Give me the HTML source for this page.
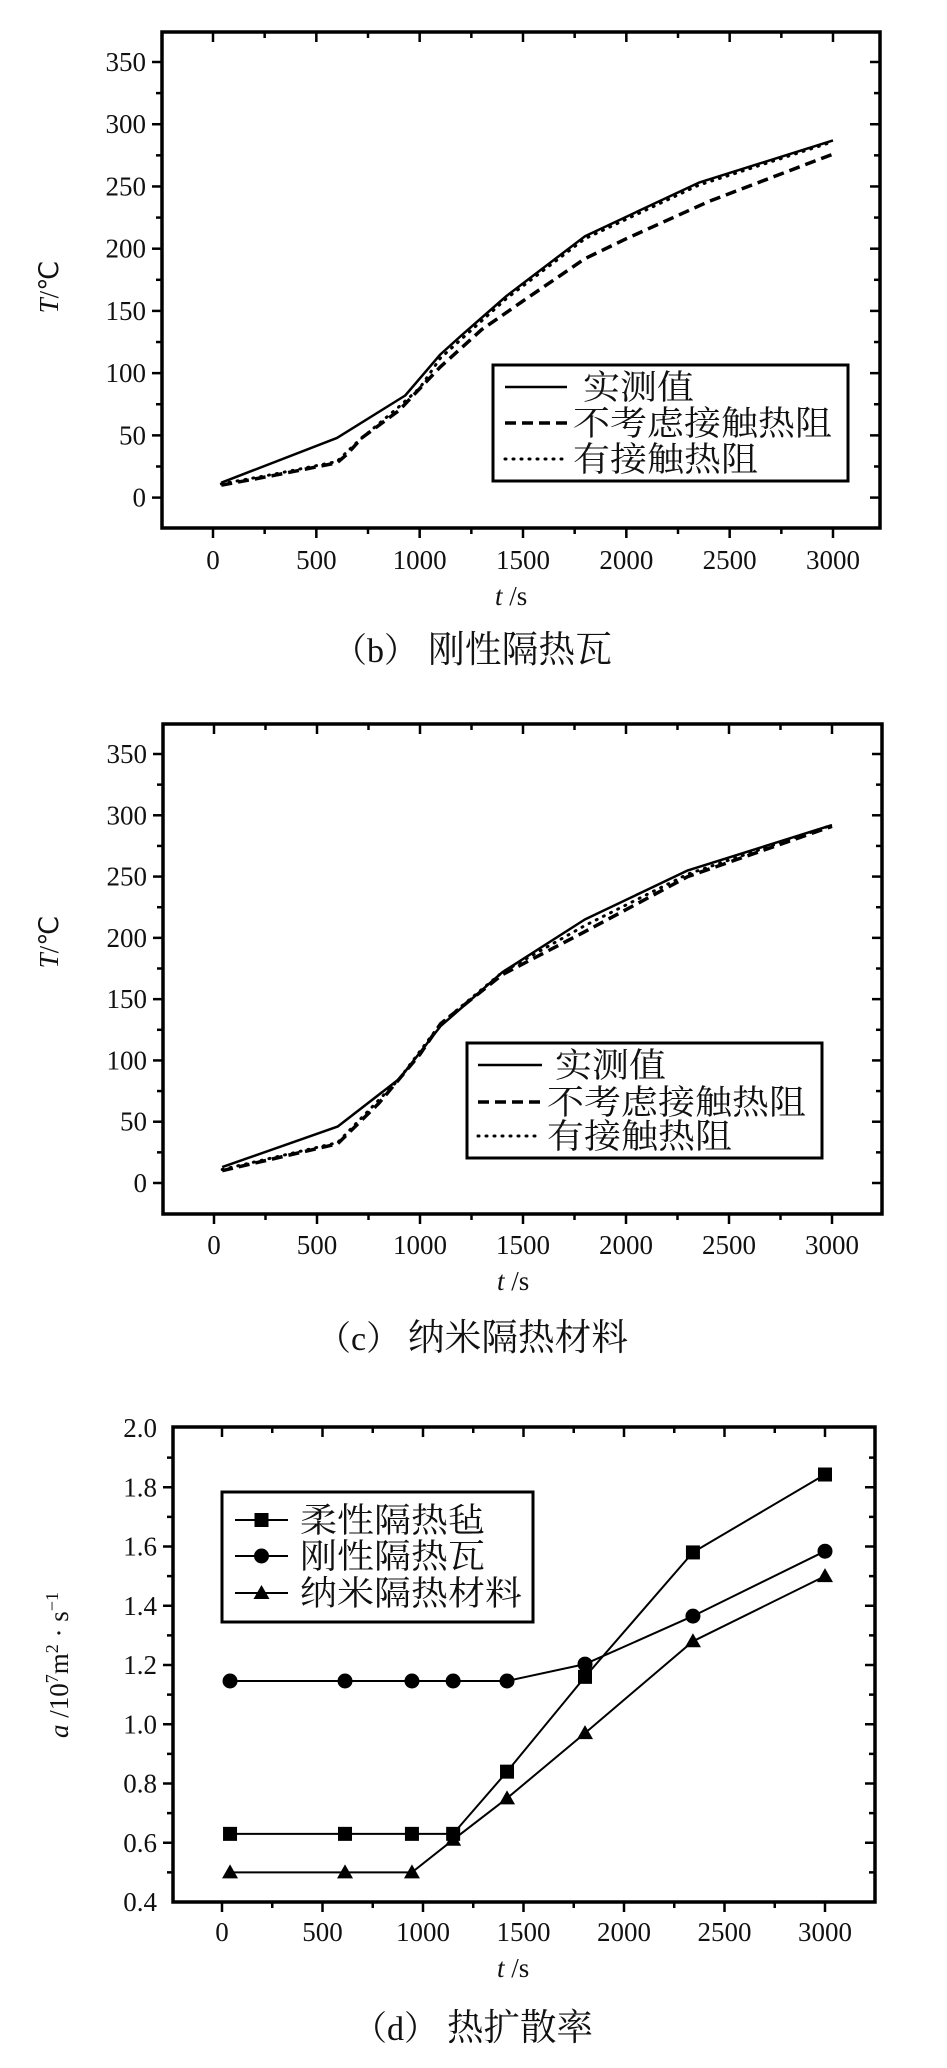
<!DOCTYPE html>
<html><head><meta charset="utf-8"><style>
html,body{margin:0;padding:0;background:#fff;}
svg{display:block;}
text{fill:#111;}
.tk{font-family:"Liberation Serif",serif;font-size:27px;}
.cj{font-family:"Liberation Serif","Noto Serif CJK SC",serif;}
</style></head><body>
<svg id="root" xmlns="http://www.w3.org/2000/svg" width="947" height="2068" viewBox="0 0 947 2068"></svg>
<script>
// ---- chart (b) data ----
const bMeasT=[40,600,930,1100,1200,1420,1800,2350,3000];
const bMeasV=[12,48,82,115,130,162,210,253,287];
const bNoResT=[40,300,600,650,720,900,1100,1300,1500,1800,2000,2400,3000];
const bNoResV=[10,18,28,35,48,70,105,135,158,192,208,238,276];
const bResT=[40,300,600,700,900,1000,1100,1420,1800,2350,3000];
const bResV=[11,19,29,45,73,88,112,160,208,251,286];
// ---- chart (c) data ----
const cMeasT=[40,600,900,1100,1400,1800,2300,3000];
const cMeasV=[13,46,85,128,172,215,255,292];
const cNoResT=[40,600,800,1000,1100,1400,1800,2300,3000];
const cNoResV=[10,32,65,105,130,170,205,250,291];
const cResT=[40,600,900,1100,1400,1800,2300,3000];
const cResV=[11,33,85,130,172,210,252,292];
// ---- chart (d) data ----
const dT=[40,612,945,1150,1418,1806,2343,3000];
const dFelt=[0.63,0.63,0.63,0.63,0.84,1.16,1.58,1.843];
const dTile=[1.146,1.146,1.146,1.146,1.146,1.203,1.365,1.584];
const dNano=[0.5,0.5,0.5,0.61,0.75,0.97,1.28,1.50];
const tempTicks=[0,50,100,150,200,250,300,350];
const aTicks=[0.4,0.6,0.8,1.0,1.2,1.4,1.6,1.8,2.0];
const timeTicks=[0,500,1000,1500,2000,2500,3000];
const legendBC=["实测值","不考虑接触热阻","有接触热阻"];
const legendD=["柔性隔热毡","刚性隔热瓦","纳米隔热材料"];

const NS="http://www.w3.org/2000/svg";
const root=document.getElementById('root');
function mk(tag,attrs,parent){const e=document.createElementNS(NS,tag);for(const k in attrs)e.setAttribute(k,attrs[k]);(parent||root).appendChild(e);return e;}

function chart(cfg){
  const g=mk('g',{});
  
  
  const X=v=>cfg.x0+(v-0)*(cfg.x3000-cfg.x0)/3000;
  const Y=v=>cfg.yb0+(v-cfg.ymin0)*(cfg.ytop1-cfg.yb0)/(cfg.ymax1-cfg.ymin0);
  const L=cfg.L,R=cfg.R,T=cfg.T,B=cfg.B;
  // ticks
  const tg=mk('g',{stroke:'#000','stroke-width':2.5},g);
  
  
  const xmaj=timeTicks, ymaj=cfg.yticks;
  const ystep=ymaj[1]-ymaj[0];
  for(let v=-500;v<=3500;v+=250){const x=X(v);if(x<=L+1||x>=R-1)continue;const maj=(v%500===0&&v>=0);
    const len=maj?10:6;
    mk('line',{x1:x,y1:B,x2:x,y2:B+len},tg);
    mk('line',{x1:x,y1:T,x2:x,y2:T+len},tg);}
  for(let i=-2;i<ymaj.length*2+2;i++){const v=ymaj[0]+i*ystep/2;const y=Y(v);if(y<=T+1||y>=B-1)continue;const maj=(i%2===0&&i>=0);
    const len=maj?10:6;
    mk('line',{x1:L,y1:y,x2:L-len,y2:y},tg);
    mk('line',{x1:R,y1:y,x2:R-len,y2:y},tg);}
  const frame=mk('rect',{x:L,y:T,width:R-L,height:B-T,fill:'none',stroke:'#000','stroke-width':3.5},g);
  
  
  xmaj.forEach(v=>{const t=mk('text',{x:X(v),y:cfg.xlabY,'text-anchor':'middle',class:'tk'},g);t.textContent=v;
    
    });
  ymaj.forEach(v=>{const t=mk('text',{x:L-16,y:Y(v)+9,'text-anchor':'end',class:'tk'},g);t.textContent=cfg.yfmt(v);
    
    });
  // x title
  const xt=mk('text',{x:cfg.xTitleX,y:cfg.xTitleY,class:'tk','font-size':30},g);
  xt.innerHTML='<tspan font-style="italic">t</tspan> /s';
  
  
  const yt=mk('text',{transform:`translate(${cfg.yTitleX},${cfg.yTitleY}) rotate(-90)`,'text-anchor':'middle',class:'tk','font-size':30},g);
  yt.innerHTML=cfg.yTitle;
  
  
  // series
  cfg.series.forEach(s=>{
    const pts=s.t.map((t,i)=>X(t).toFixed(1)+','+Y(s.v[i]).toFixed(1)).join(' ');
    const pl=mk('polyline',{points:pts,fill:'none',stroke:'#000','stroke-width':s.w,'stroke-dasharray':s.dash||'none','stroke-linejoin':'round','stroke-linecap':s.cap||'butt'},g);
    
    
    if(s.marker){s.t.forEach((t,i)=>{const m=marker(s.marker,X(t),Y(s.v[i]),g);
      
      });}
  });
  // legend
  const lg=mk('g',{},g);
  
  
  const lb=cfg.legend;
  mk('rect',{x:lb.x,y:lb.y,width:lb.w,height:lb.h,fill:'#fff',stroke:'#000','stroke-width':3},lg);
  cfg.series.forEach((s,i)=>{
    const ry=lb.rows[i];
    const e=mk('g',{},lg);
    
    
    mk('line',{x1:lb.sx1,y1:ry,x2:lb.sx2,y2:ry,stroke:'#000','stroke-width':s.w,'stroke-dasharray':s.dash||'none','stroke-linecap':s.cap||'butt'},e);
    if(s.marker)marker(s.marker,(lb.sx1+lb.sx2)/2,ry,e);
    const tx=mk('text',{x:lb.tx[i],y:ry+12,class:'cj','font-size':34,textLength:lb.tw*s.label.length,lengthAdjust:'spacingAndGlyphs'},e);
    tx.textContent=s.label;
  });
  // caption
  const cap=mk('text',{x:cfg.cap.x,y:cfg.cap.y,class:'cj','font-size':34},g);
  cap.textContent=cfg.cap.p;
  
  
  const cap2=mk('text',{x:cfg.cap.x2,y:cfg.cap.y,class:'cj','font-size':37,textLength:cfg.cap.w,lengthAdjust:'spacingAndGlyphs'},g);
  cap2.textContent=cfg.cap.t;
  
  
}
function marker(type,x,y,p){
  if(type==='sq')return mk('rect',{x:x-7,y:y-7,width:14,height:14,fill:'#000'},p);
  if(type==='ci')return mk('circle',{cx:x,cy:y,r:7.5,fill:'#000'},p);
  return mk('polygon',{points:`${x},${y-8} ${x+8},${y+6} ${x-8},${y+6}`,fill:'#000'},p);
}
const Ttitle='<tspan font-style="italic">T</tspan>/℃';
chart({name:'chart-b-rigid-tile',x0:213,x3000:833,yb0:497.6,ymin0:0,ytop1:62,ymax1:350,L:162,R:880,T:32,B:528,
  yticks:tempTicks,yfmt:v=>v,xlabY:569,xTitleX:495,xTitleY:605,yTitleX:58,yTitleY:287,yTitle:Ttitle,
  series:[{t:bMeasT,v:bMeasV,w:2.5,label:legendBC[0],name:'series-measured'},
          {t:bNoResT,v:bNoResV,w:3.5,dash:'11 6',label:legendBC[1],name:'series-no-contact-resistance'},
          {t:bResT,v:bResV,w:3,dash:'1 7',cap:'round',label:legendBC[2],name:'series-with-contact-resistance'}],
  legend:{x:493,y:365,w:355,h:116,rows:[387,423,459],sx1:505,sx2:567,tx:[583,573,573],tw:37},
  cap:{x:333,x2:428,y:662,p:'（b）',t:'刚性隔热瓦',w:184}});
chart({name:'chart-c-nano-material',x0:214,x3000:832,yb0:1183,ymin0:0,ytop1:754,ymax1:350,L:163,R:882,T:724,B:1214,
  yticks:tempTicks,yfmt:v=>v,xlabY:1254,xTitleX:497,xTitleY:1290,yTitleX:58,yTitleY:942,yTitle:Ttitle,
  series:[{t:cMeasT,v:cMeasV,w:2.5,label:legendBC[0],name:'series-measured'},
          {t:cNoResT,v:cNoResV,w:3.5,dash:'11 6',label:legendBC[1],name:'series-no-contact-resistance'},
          {t:cResT,v:cResV,w:3,dash:'1 7',cap:'round',label:legendBC[2],name:'series-with-contact-resistance'}],
  legend:{x:467,y:1043,w:355,h:115,rows:[1065,1102,1136],sx1:478,sx2:542,tx:[555,547,547],tw:37},
  cap:{x:317,x2:408,y:1350,p:'（c）',t:'纳米隔热材料',w:220}});
chart({name:'chart-d-thermal-diffusivity',x0:222,x3000:825,yb0:1902,ymin0:0.4,ytop1:1428,ymax1:2.0,L:173,R:875,T:1427,B:1902,
  yticks:aTicks,yfmt:v=>v.toFixed(1),xlabY:1941,xTitleX:497,xTitleY:1977,yTitleX:68,yTitleY:1665,
  yTitle:'<tspan font-style="italic">a</tspan> /10<tspan baseline-shift="super" font-size="18">7</tspan>m<tspan baseline-shift="super" font-size="18">2</tspan> · s<tspan baseline-shift="super" font-size="18">−1</tspan>',
  series:[{t:dT,v:dFelt,w:2,marker:'sq',label:legendD[0],name:'series-flexible-felt'},
          {t:dT,v:dTile,w:2,marker:'ci',label:legendD[1],name:'series-rigid-tile'},
          {t:dT,v:dNano,w:2,marker:'tr',label:legendD[2],name:'series-nano-material'}],
  legend:{x:222,y:1492,w:311,h:130,rows:[1520,1556,1593],sx1:235,sx2:288,tx:[300,300,300],tw:37},
  cap:{x:353,x2:447,y:2040,p:'（d）',t:'热扩散率',w:146}});
</script>
</body></html>
